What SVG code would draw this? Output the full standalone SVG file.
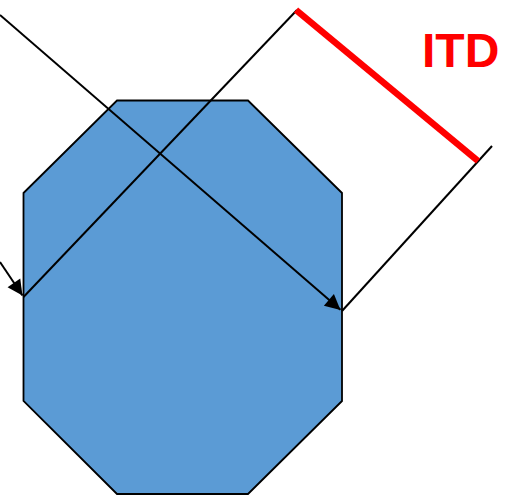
<svg xmlns="http://www.w3.org/2000/svg" width="508" height="495" viewBox="0 0 508 495">
  <style>
    .ray { stroke: #000; stroke-width: 2; fill: none; }
    .itd { stroke: #FF0000; stroke-width: 6.5; fill: none; }
    .label { font-family: "Liberation Sans", Arial, sans-serif; font-weight: bold; font-size: 48px; fill: #FF0000; }
  </style>
  <defs>
    <marker id="arrow" viewBox="0 0 10 10" refX="10" refY="5" markerWidth="9" markerHeight="9" markerUnits="userSpaceOnUse" orient="auto" overflow="visible">
      <path d="M0,0 L10,5 L0,10 Z" fill="#000" transform="scale(1.7) translate(-4.1,-2)"/>
    </marker>
  </defs>
  <rect width="508" height="495" fill="#fff"/>

  <!-- head cross-section -->
  <g id="head">
    <polygon points="117,100.5 248,100.5 342,193 342,401 248,494 117,494 23.5,401 23.5,193" fill="#5B9BD5" stroke="#000" stroke-width="1.8"/>
  </g>

  <!-- incoming rays and wavefront -->
  <g id="connectors">
    <line class="ray" x1="0" y1="15" x2="340.5" y2="309.8" marker-end="url(#arrow)"/>
    <line class="ray" x1="0" y1="262" x2="22.5" y2="295.5" marker-end="url(#arrow)"/>
    <line class="ray" x1="23.5" y1="297" x2="297" y2="10"/>
    <line class="ray" x1="342" y1="311" x2="492" y2="146"/>
  </g>

  <!-- interaural time difference span -->
  <g id="itd">
    <line class="itd" x1="296" y1="10" x2="478" y2="161"/>
    <text class="label" x="422" y="67">ITD</text>
  </g>
</svg>
